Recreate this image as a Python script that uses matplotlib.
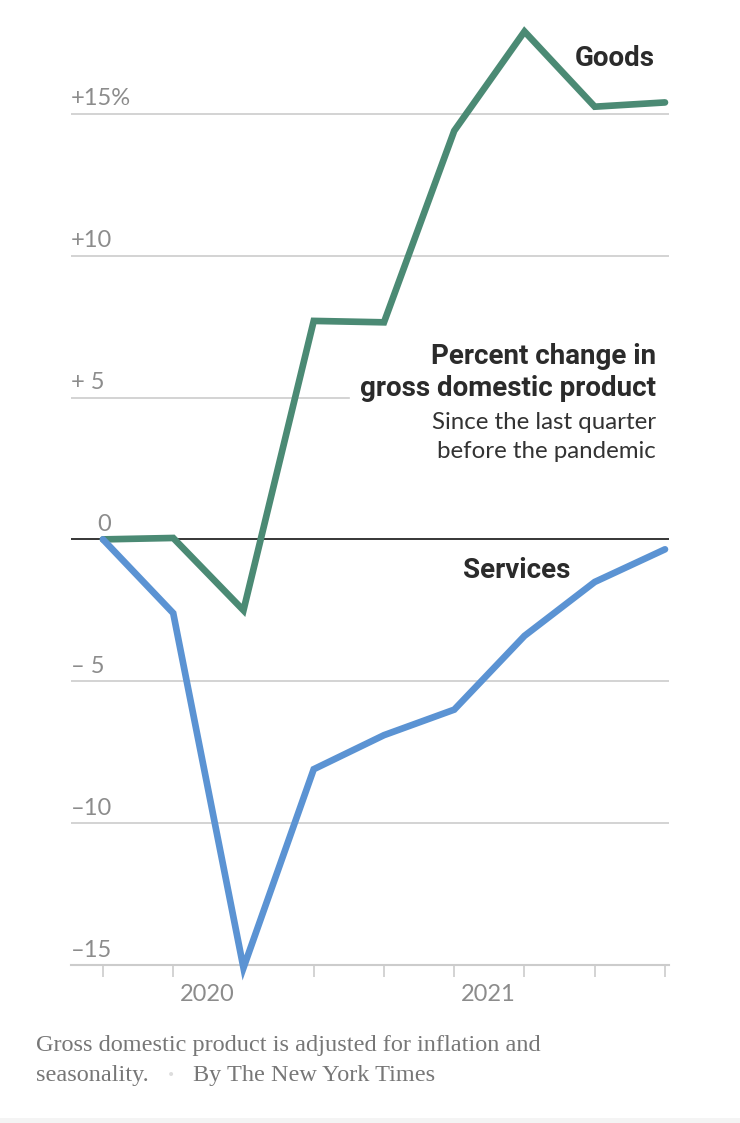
import matplotlib
matplotlib.use("Agg")
import matplotlib.pyplot as plt
import matplotlib.transforms as mtransforms
from matplotlib.patches import Rectangle

# quarters from 2019 Q4 to 2021 Q4
quarters = ["2019Q4", "2020Q1", "2020Q2", "2020Q3", "2020Q4",
            "2021Q1", "2021Q2", "2021Q3", "2021Q4"]
goods = [0.0, 0.05, -2.5, 7.7, 7.65, 14.4, 17.9, 15.25, 15.4]
services = [0.0, -2.6, -15.1, -8.1, -6.9, -6.0, -3.4, -1.5, -0.35]

grid_values = [15, 10, 5, 0, -5, -10, -15]
grid_labels = ["+15%", "+10", "+ 5", "0", "\u2013 5", "\u201310", "\u201315"]
year_labels = ["2020", "2021"]
year_pos = [1, 5]

GREEN = "#4b8a74"
BLUE = "#5b93d3"
GRID = "#cccccc"
TICKTXT = "#8c8c8c"
DARK = "#2b2b2b"

W, H = 740, 1123
fig = plt.figure(figsize=(W / 100, H / 100), dpi=100)

# axes box in pixels
left_px, right_px = 71, 669
bottom_px, top_px = 965, 0
ax = fig.add_axes([left_px / W, (H - bottom_px) / H,
                   (right_px - left_px) / W, (bottom_px - top_px) / H])
x = list(range(len(quarters)))
ax.set_xlim(-0.455, 8.057)
ax.set_ylim(-15, 19.01)

for s in ["top", "right", "left"]:
    ax.spines[s].set_visible(False)
ax.spines["bottom"].set_color(GRID)
ax.spines["bottom"].set_linewidth(1.5)

# gridlines
for v in grid_values:
    if v == 0:
        ax.axhline(0, color="black", lw=1.1, zorder=1)
    elif v == 5:
        ax.axhline(v, xmax=(349 - left_px) / (right_px - left_px), color=GRID, lw=1.2, zorder=1)
    elif v != -15:
        ax.axhline(v, color=GRID, lw=1.2, zorder=1)

# tick labels sitting above the lines
trans = mtransforms.blended_transform_factory(ax.transAxes, ax.transData)
for v, lab in zip(grid_values, grid_labels):
    xpos = 0.0 if lab != "0" else (97 - left_px) / (right_px - left_px)
    ax.annotate(lab, (xpos, v), xycoords=trans, xytext=(0, 6), textcoords="offset points",
                ha="left", va="baseline", fontsize=17, color=TICKTXT,
                family="Lato", zorder=3)

# x ticks
ax.set_xticks(x)
ax.set_xticklabels([])
ax.tick_params(axis="x", which="major", length=8.6, width=1.2, color=GRID, direction="out")
ax.set_xticks(year_pos, minor=True)
ax.tick_params(axis="x", which="minor", length=18, width=1.2, color=GRID, direction="out")
ax.set_yticks([])
for p, lab in zip(year_pos, year_labels):
    ax.annotate(lab, (p, -15), xycoords="data", xytext=(4.5, -21), textcoords="offset points",
                ha="left", va="center", fontsize=17, color=TICKTXT, family="Lato",
                annotation_clip=False)

# lines
ax.plot(x, goods, color=GREEN, lw=4.8, solid_joinstyle="miter", solid_capstyle="round",
        clip_on=False, zorder=4)
ax.plot(x, services, color=BLUE, lw=4.8, solid_joinstyle="miter", solid_capstyle="round",
        clip_on=False, zorder=5)

# labels
def fx(px):
    return px / W

def fy(py):
    return 1 - py / H

fig.text(fx(655), fy(58), "Goods", ha="right", va="center", fontsize=20,
         fontweight="bold", color=DARK, family="Roboto")
fig.text(fx(570), fy(571), "Services", ha="right", va="center", fontsize=20,
         fontweight="bold", color=DARK, family="Roboto")
fig.text(fx(656), fy(357), "Percent change in", ha="right", va="center", fontsize=20,
         fontweight="bold", color=DARK, family="Roboto")
fig.text(fx(656), fy(388), "gross domestic product", ha="right", va="center", fontsize=20,
         fontweight="bold", color=DARK, family="Roboto")
fig.text(fx(656), fy(422), "Since the last quarter", ha="right", va="center", fontsize=17.3,
         color="#333333", family="Lato")
fig.text(fx(656), fy(452), "before the pandemic", ha="right", va="center", fontsize=17.3,
         color="#333333", family="Lato")

# footer
fig.text(fx(36), fy(1046), "Gross domestic product is adjusted for inflation and",
         ha="left", va="center", fontsize=17.5, color="#777777", family="Liberation Serif")
fig.text(fx(36), fy(1075), "seasonality.", ha="left", va="center", fontsize=17.5,
         color="#777777", family="Liberation Serif")
fig.text(fx(171), fy(1075), "\u2022", ha="center", va="center", fontsize=10,
         color="#dddddd", family="DejaVu Sans")
fig.text(fx(193), fy(1075), "By The New York Times", ha="left", va="center", fontsize=17.5,
         color="#777777", family="Liberation Serif")

fig.patches.append(Rectangle((0, 0), 1, 5 / H, transform=fig.transFigure,
                             facecolor="#f4f4f4", edgecolor="none"))

fig.savefig("out.png", dpi=100, facecolor="white")
